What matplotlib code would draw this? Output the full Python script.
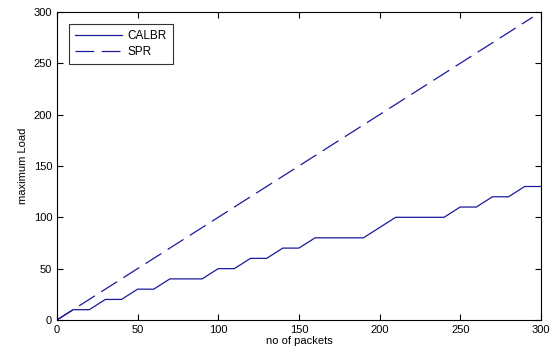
import matplotlib
matplotlib.use("Agg")
import matplotlib.pyplot as plt

# --- data
packets = [0, 10, 20, 30, 40, 50, 60, 70, 80, 90, 100, 110, 120, 130, 140, 150,
           160, 170, 180, 190, 200, 210, 220, 230, 240, 250, 260, 270, 280, 290, 300]
calbr = [0, 10, 10, 20, 20, 30, 30, 40, 40, 40, 50, 50, 60, 60, 70, 70,
         80, 80, 80, 80, 90, 100, 100, 100, 100, 110, 110, 120, 120, 130, 130]
spr_x = [0, 295]
spr_y = [0, 295]
# ---

plt.rcParams['font.family'] = ['Liberation Sans', 'DejaVu Sans']

fig = plt.figure(figsize=(5.53, 3.52), dpi=100)
ax = fig.add_axes([0.103, 0.091, 0.875, 0.875])

ax.plot(packets, calbr, color='#1a1a9a', lw=0.9, label='CALBR')
ax.plot(spr_x, spr_y, color='#1a1a9a', lw=0.9, dashes=(15, 6), label='SPR')

ax.set_xlim(0, 300)
ax.set_ylim(0, 300)
ax.set_xticks(range(0, 301, 50))
ax.set_yticks(range(0, 301, 50))
ax.tick_params(direction='in', top=True, right=True, labelsize=8, length=4, width=0.8)
for s in ax.spines.values():
    s.set_linewidth(0.8)

ax.set_xlabel('no of packets', fontsize=8, labelpad=1)
ax.set_ylabel('maximum Load', fontsize=8, labelpad=4)

leg = ax.legend(loc='upper left', fontsize=8.5, frameon=True, fancybox=False,
                edgecolor='black', borderaxespad=1.0, handlelength=4.0,
                handletextpad=0.5, labelspacing=0.4, borderpad=0.5)
leg.get_frame().set_linewidth(0.8)

fig.savefig('out.png', dpi=100)
